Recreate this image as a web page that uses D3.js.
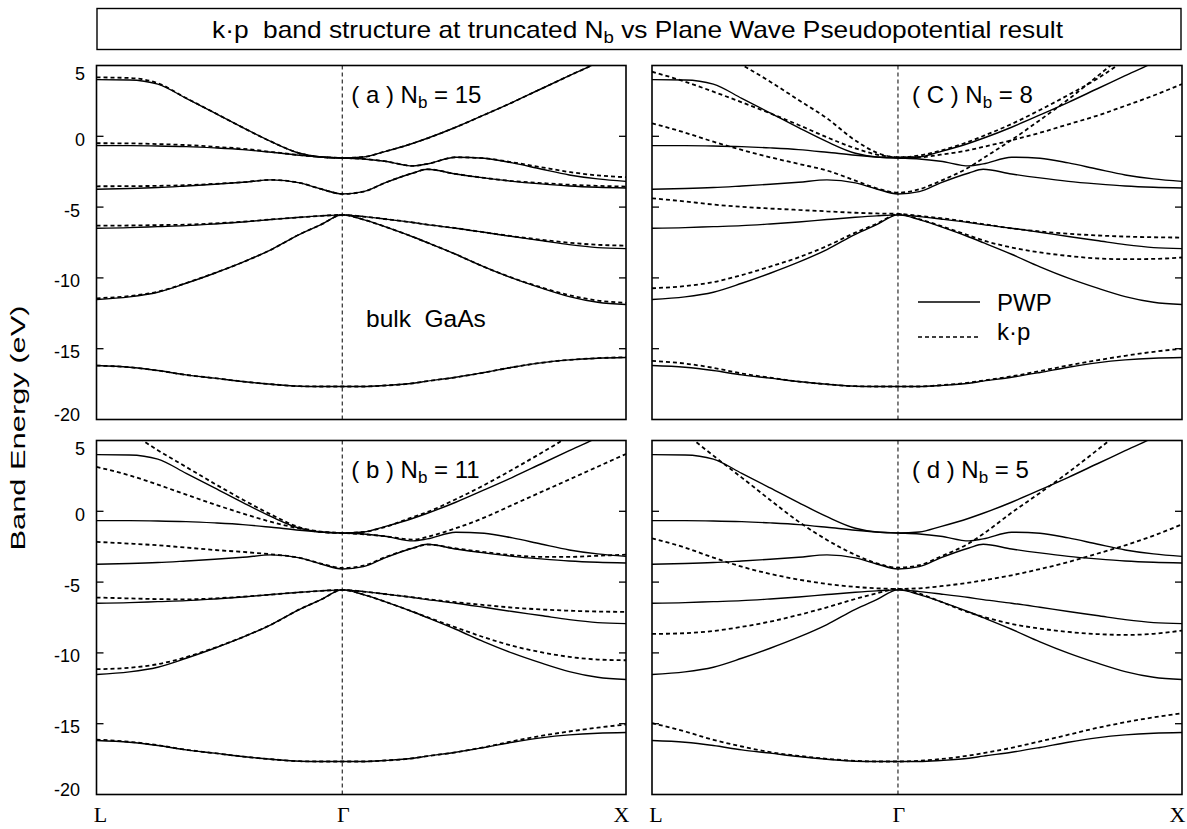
<!DOCTYPE html>
<html>
<head>
<meta charset="utf-8">
<script src="https://cdn.jsdelivr.net/npm/d3@7"></script>
<style>
  body { margin: 0; background: #fff; }
  text { fill: #000; }
</style>
</head>
<body>
<svg id="chart" width="1187" height="829"></svg>
<script>
// k along the path L -> Gamma -> X, in units of 2*pi/a (L = -sqrt(3)/2, Gamma = 0, X = 1)
const kPoints = [-0.866, -0.75, -0.65, -0.55, -0.45, -0.35, -0.25, -0.15, -0.075, 0,
                 0.075, 0.15, 0.25, 0.30, 0.40, 0.50, 0.60, 0.70, 0.80, 0.90, 1.0];
const symmetryLabels = ["L", "Γ", "X"];
const symmetryK = [-0.866, 0, 1];
const energyTicks = [5, 0, -5, -10, -15, -20];

// Plane Wave Pseudopotential bands (eV)
const pwp1 = [-16.19,-16.31,-16.54,-16.85,-17.08,-17.32,-17.51,-17.65,-17.67,-17.67, -17.67,-17.60,-17.44,-17.29,-17.02,-16.68,-16.31,-16.00,-15.79,-15.67,-15.62];
const pwp2 = [-11.53,-11.34,-11.01,-10.38,-9.67,-8.89,-8.00,-6.92,-6.24,-5.55, -5.88,-6.38,-7.11,-7.51,-8.33,-9.22,-10.02,-10.71,-11.32,-11.72,-11.88];
const pwp3 = [-6.49,-6.45,-6.38,-6.31,-6.19,-6.05,-5.88,-5.72,-5.62,-5.55, -5.67,-5.84,-6.09,-6.24,-6.49,-6.78,-7.08,-7.36,-7.65,-7.86,-7.93];
const pwp4 = [-3.74,-3.69,-3.62,-3.51,-3.39,-3.25,-3.08,-3.29,-3.72,-4.07, -3.91,-3.29,-2.59,-2.33,-2.66,-2.94,-3.18,-3.36,-3.51,-3.60,-3.65];
const pwp5 = [-0.66,-0.66,-0.68,-0.73,-0.82,-0.94,-1.13,-1.34,-1.46,-1.53, -1.60,-1.76,-2.09,-1.95,-1.48,-1.55,-1.88,-2.31,-2.73,-3.01,-3.18];
const pwp6 = [4.00,3.98,3.69,2.68,1.65,0.61,-0.38,-1.20,-1.46,-1.53, -1.46,-1.08,-0.49,-0.14,0.64,1.51,2.40,3.34,4.28,5.22,6.40];

// k.p bands, Nb = 15
const kpA1 = [-16.19,-16.31,-16.54,-16.85,-17.08,-17.32,-17.51,-17.65,-17.67,-17.67, -17.67,-17.60,-17.44,-17.29,-17.02,-16.68,-16.31,-16.00,-15.79,-15.67,-15.60];
const kpA2 = [-11.44,-11.28,-10.98,-10.36,-9.66,-8.89,-8.00,-6.92,-6.24,-5.55, -5.88,-6.38,-7.11,-7.51,-8.33,-9.22,-10.00,-10.66,-11.22,-11.60,-11.76];
const kpA3 = [-6.31,-6.30,-6.27,-6.24,-6.15,-6.03,-5.87,-5.72,-5.62,-5.55, -5.67,-5.84,-6.09,-6.24,-6.49,-6.78,-7.06,-7.30,-7.52,-7.66,-7.72];
const kpA4 = [-3.53,-3.52,-3.50,-3.45,-3.36,-3.24,-3.08,-3.29,-3.72,-4.07, -3.91,-3.29,-2.59,-2.33,-2.66,-2.94,-3.16,-3.30,-3.42,-3.50,-3.55];
const kpA5 = [-0.49,-0.50,-0.55,-0.62,-0.74,-0.88,-1.10,-1.33,-1.46,-1.53, -1.60,-1.76,-2.09,-1.95,-1.48,-1.55,-1.84,-2.18,-2.52,-2.76,-2.89];
const kpA6 = [4.16,4.12,3.75,2.70,1.66,0.61,-0.38,-1.20,-1.46,-1.53, -1.46,-1.08,-0.49,-0.14,0.64,1.51,2.40,3.34,4.28,5.22,6.40];

// k.p bands, Nb = 11
const kpB1 = [-16.12,-16.28,-16.52,-16.84,-17.08,-17.32,-17.51,-17.65,-17.67,-17.67, -17.67,-17.60,-17.44,-17.29,-17.02,-16.66,-16.24,-15.86,-15.55,-15.28,-15.06];
const kpB2 = [-11.15,-11.05,-10.80,-10.30,-9.64,-8.88,-8.00,-6.92,-6.24,-5.55, -5.88,-6.38,-7.10,-7.48,-8.20,-8.90,-9.50,-9.95,-10.28,-10.47,-10.52];
const kpB3 = [-6.09,-6.15,-6.20,-6.22,-6.15,-6.03,-5.88,-5.72,-5.62,-5.55, -5.67,-5.84,-6.08,-6.20,-6.42,-6.62,-6.80,-6.93,-7.02,-7.08,-7.10];
const kpB4 = [-2.16,-2.28,-2.40,-2.56,-2.73,-2.87,-3.04,-3.29,-3.69,-4.00, -3.84,-3.25,-2.59,-2.35,-2.62,-2.88,-3.10,-3.22,-3.22,-3.14,-3.06];
const kpB5 = [3.13,2.54,1.88,1.18,0.49,-0.16,-0.75,-1.22,-1.46,-1.53, -1.62,-1.76,-2.00,-1.80,-1.20,-0.45,0.45,1.35,2.25,3.15,4.05];
const kpB6 = [6.80,5.60,4.31,3.13,1.95,0.82,-0.24,-1.13,-1.44,-1.53, -1.46,-1.11,-0.40,-0.05,0.85,1.85,2.95,4.10,5.30,6.50,7.70];

// k.p bands, Nb = 8
const kpC1 = [-15.86,-16.05,-16.35,-16.75,-17.05,-17.32,-17.51,-17.65,-17.67,-17.67, -17.67,-17.58,-17.40,-17.25,-16.95,-16.58,-16.18,-15.82,-15.50,-15.22,-15.00];
const kpC2 = [-10.73,-10.58,-10.30,-9.80,-9.20,-8.55,-7.75,-6.80,-6.18,-5.50, -5.85,-6.33,-7.00,-7.35,-7.85,-8.20,-8.45,-8.62,-8.68,-8.66,-8.56];
const kpC3 = [-4.38,-4.60,-4.82,-4.98,-5.10,-5.20,-5.30,-5.40,-5.45,-5.48, -5.62,-5.78,-6.05,-6.20,-6.50,-6.72,-6.88,-7.00,-7.08,-7.13,-7.15];
const kpC4 = [0.92,0.26,-0.38,-0.96,-1.48,-1.95,-2.42,-3.13,-3.67,-3.98, -3.74,-3.15,-2.19,-1.55,-0.26,1.15,2.61,4.21,5.86,7.50,9.15];
const kpC5 = [4.56,3.86,3.15,2.40,1.62,0.80,-0.07,-0.85,-1.29,-1.48, -1.48,-1.30,-0.98,-0.75,-0.28,0.25,0.85,1.45,2.15,2.88,3.69];
const kpC6 = [8.40,7.25,6.10,5.04,3.86,2.56,1.27,-0.30,-1.15,-1.48, -1.36,-1.01,-0.38,0.02,0.87,1.86,2.92,4.05,5.40,6.90,8.50];

// k.p bands, Nb = 5
const kpD1 = [-14.96,-15.55,-16.14,-16.61,-17.01,-17.27,-17.48,-17.62,-17.67,-17.67, -17.62,-17.50,-17.25,-17.08,-16.70,-16.25,-15.78,-15.30,-14.90,-14.55,-14.26];
const kpD2 = [-8.66,-8.61,-8.45,-8.16,-7.79,-7.32,-6.78,-6.19,-5.79,-5.48, -5.81,-6.38,-7.15,-7.45,-7.95,-8.28,-8.52,-8.67,-8.73,-8.65,-8.42];
const kpD3 = [-1.91,-2.56,-3.27,-3.91,-4.42,-4.82,-5.13,-5.34,-5.44,-5.48, -5.44,-5.29,-5.04,-4.88,-4.52,-4.08,-3.58,-3.00,-2.40,-1.72,-0.92];
const kpD4 = [7.27,5.51,3.93,2.38,0.80,-0.73,-2.02,-3.08,-3.67,-3.98, -3.81,-3.20,-2.26,-1.60,-0.10,1.30,2.75,4.30,5.90,7.50,9.00];

const pwpBands = [pwp1, pwp2, pwp3, pwp4, pwp5, pwp6];
const panelTags = ["a", "C", "b", "d"];
const panelNb = ["15", "8", "11", "5"];
const panelKp = [
  [kpA1, kpA2, kpA3, kpA4, kpA5, kpA6],
  [kpC1, kpC2, kpC3, kpC4, kpC5, kpC6],
  [kpB1, kpB2, kpB3, kpB4, kpB5, kpB6],
  [kpD1, kpD2, kpD3, kpD4]
];

const SANS = "'Liberation Sans', Arial, Helvetica, sans-serif";
const SERIF = "'Liberation Serif', 'Times New Roman', serif";

const svg = d3.select("#chart");
svg.append("rect").attr("width", 1187).attr("height", 829).attr("fill", "#fff");

// Title box
svg.append("rect")
  .attr("x", 97).attr("y", 8.5).attr("width", 1084).attr("height", 41)
  .attr("fill", "none").attr("stroke", "#000").attr("stroke-width", 1.4);
const title = svg.append("text")
  .attr("x", 212).attr("y", 38)
  .attr("font-family", SANS).attr("font-size", 24)
  .attr("textLength", 851).attr("lengthAdjust", "spacingAndGlyphs")
  .attr("xml:space", "preserve");
title.append("tspan").text("k·p  band structure at truncated N");
title.append("tspan").attr("font-size", 17).attr("dy", 5).text("b");
title.append("tspan").attr("dy", -5).text(" vs Plane Wave Pseudopotential result");

// Shared y-axis title
svg.append("text")
  .attr("transform", "translate(25,428) rotate(-90)")
  .attr("text-anchor", "middle")
  .attr("font-family", SANS).attr("font-size", 20)
  .attr("textLength", 245).attr("lengthAdjust", "spacingAndGlyphs")
  .text("Band Energy (eV)");

const colX = [[96.5, 626], [652, 1182]];
const rowY = [[65.5, 419.5], [440.5, 794.5]];

panelTags.forEach((tag, p) => {
  const col = p % 2, row = Math.floor(p / 2);
  const [x0, x1] = colX[col];
  const [y0, y1] = rowY[row];

  const x = d3.scaleLinear().domain([kPoints[0], kPoints[kPoints.length - 1]]).range([x0, x1]);
  const y = d3.scaleLinear().domain([-20, 5]).range([y1, y0]);

  const g = svg.append("g");
  const clipId = "clip-" + p;
  svg.append("clipPath").attr("id", clipId)
    .append("rect").attr("x", x0).attr("y", y0).attr("width", x1 - x0).attr("height", y1 - y0);

  const line = d3.line()
    .x((d, i) => x(kPoints[i]))
    .y(d => y(d))
    .curve(d3.curveMonotoneX);

  const plot = g.append("g").attr("clip-path", `url(#${clipId})`);

  // Gamma marker
  plot.append("line")
    .attr("x1", x(0)).attr("x2", x(0)).attr("y1", y0).attr("y2", y1)
    .attr("stroke", "#000").attr("stroke-width", 1).attr("stroke-dasharray", "4,3");

  plot.selectAll("path.pwp").data(pwpBands).join("path")
    .attr("class", "pwp")
    .attr("d", line)
    .attr("fill", "none").attr("stroke", "#000").attr("stroke-width", 1.4);

  plot.selectAll("path.kp").data(panelKp[p]).join("path")
    .attr("class", "kp")
    .attr("d", line)
    .attr("fill", "none").attr("stroke", "#000").attr("stroke-width", 1.8)
    .attr("stroke-dasharray", "4,3");

  // Frame
  g.append("rect")
    .attr("x", x0).attr("y", y0).attr("width", x1 - x0).attr("height", y1 - y0)
    .attr("fill", "none").attr("stroke", "#000").attr("stroke-width", 1.6);

  // Inner ticks on both sides
  const inner = energyTicks.filter(v => v < 5 && v > -20);
  g.selectAll("line.tl").data(inner).join("line")
    .attr("x1", x0).attr("x2", x0 + 7).attr("y1", d => y(d)).attr("y2", d => y(d))
    .attr("stroke", "#000").attr("stroke-width", 1.3);
  g.selectAll("line.tr").data(inner).join("line")
    .attr("x1", x1 - 7).attr("x2", x1).attr("y1", d => y(d)).attr("y2", d => y(d))
    .attr("stroke", "#000").attr("stroke-width", 1.3);

  if (col === 0) {
    g.selectAll("text.ytick").data(energyTicks).join("text")
      .attr("class", "ytick")
      .attr("x", d => d >= 0 ? 85 : 80)
      .attr("y", d => y(d) + (d === 5 ? 14 : d === -20 ? 1 : 9.5))
      .attr("text-anchor", "end")
      .attr("font-family", SANS).attr("font-size", 18)
      .text(d => d);
  }

  if (row === 1) {
    const offs = [4, 1, -4.5];
    g.selectAll("text.sym").data(symmetryLabels).join("text")
      .attr("x", (d, i) => x(symmetryK[i]) + offs[i])
      .attr("y", 822)
      .attr("text-anchor", "middle")
      .attr("font-family", SERIF).attr("font-size", 22)
      .text(d => d);
  }

  // Panel label
  const lab = g.append("text")
    .attr("x", x(0) + (col === 0 ? 9 : 14)).attr("y", y0 + 37)
    .attr("font-family", SANS).attr("font-size", 24)
    .attr("xml:space", "preserve");
  lab.append("tspan").text(`( ${tag} ) N`);
  lab.append("tspan").attr("font-size", 17).attr("dy", 5).text("b");
  lab.append("tspan").attr("dy", -5).text(` = ${panelNb[p]}`);

  if (p === 0) {
    g.append("text")
      .attr("x", 366).attr("y", 327)
      .attr("font-family", SANS).attr("font-size", 24.5)
      .attr("xml:space", "preserve")
      .text("bulk  GaAs");
  }

  if (p === 1) {
    const legend = [{name: "PWP", dash: null, ly: 302, ty: 311}, {name: "k·p", dash: "4,3", ly: 337, ty: 340}];
    legend.forEach(it => {
      g.append("line")
        .attr("x1", 918).attr("x2", 980).attr("y1", it.ly).attr("y2", it.ly)
        .attr("stroke", "#000").attr("stroke-width", it.dash ? 1.6 : 1.4)
        .attr("stroke-dasharray", it.dash);
      g.append("text")
        .attr("x", 997).attr("y", it.ty)
        .attr("font-family", SANS).attr("font-size", 24)
        .text(it.name);
    });
  }
});
</script>
</body>
</html>
